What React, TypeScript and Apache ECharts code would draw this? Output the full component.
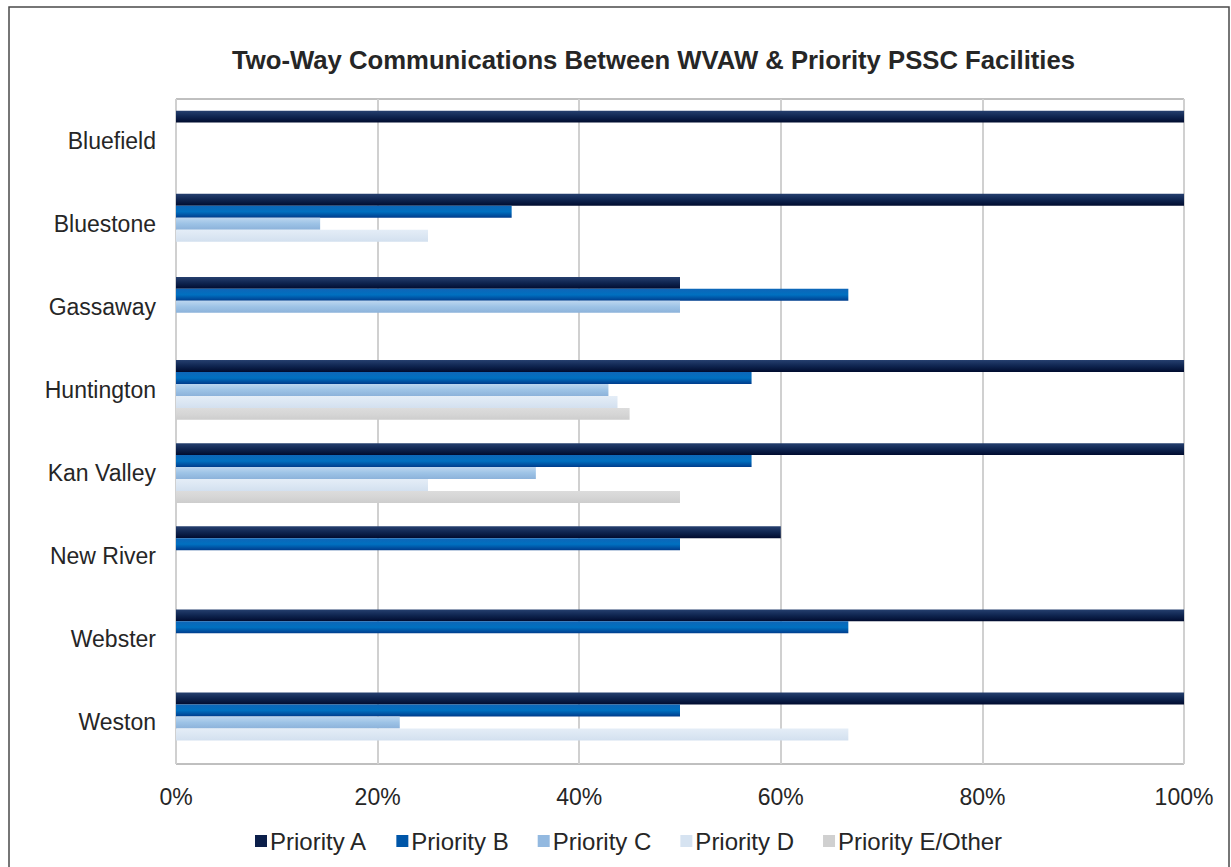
import React, { useEffect, useRef } from "react";
import * as echarts from "echarts";

const categories = ["Bluefield", "Bluestone", "Gassaway", "Huntington", "Kan Valley", "New River", "Webster", "Weston"];
const seriesNames = ["Priority A", "Priority B", "Priority C", "Priority D", "Priority E/Other"];
const priorityA = [100, 100, 50, 100, 100, 60, 100, 100];
const priorityB = [null, 33.3, 66.7, 57.1, 57.1, 50, 66.7, 50];
const priorityC = [null, 14.3, 50, 42.9, 35.7, null, null, 22.2];
const priorityD = [null, 25, null, 43.8, 25, null, null, 66.7];
const priorityE = [null, null, null, 45, 50, null, null, null];
const xTicks = [0, 20, 40, 60, 80, 100];

const gradients = [
  ["#26406f", "#0f2550", "#000b2e"],
  ["#0e66b8", "#0070c0", "#003c8c"],
  ["#bcd6ef", "#9dc3e6", "#8cb2da"],
  ["#e4edf7", "#dce7f3", "#d3e0ef"],
  ["#dcdcdc", "#d6d6d6", "#cdcdcd"],
];
const solid = ["#0c1f4a", "#0056a8", "#93b9e0", "#d6e3f1", "#d0d0d0"];

function grad(c: string[]) {
  return new echarts.graphic.LinearGradient(0, 0, 0, 1, [
    { offset: 0, color: c[0] },
    { offset: 0.5, color: c[1] },
    { offset: 1, color: c[2] },
  ]);
}

export default function App() {
  const ref = useRef<HTMLDivElement>(null);
  useEffect(() => {
    if (!ref.current) return;
    const chart = echarts.init(ref.current, null, { renderer: "svg" });
    const data = [priorityA, priorityB, priorityC, priorityD, priorityE];
    const font = "'Liberation Sans', Arial, sans-serif";
    chart.setOption({
      animation: false,
      backgroundColor: "#ffffff",
      textStyle: { fontFamily: font },
      title: {
        text: "Two-Way Communications Between WVAW & Priority PSSC Facilities",
        left: 227,
        top: 42,
        textStyle: { fontSize: 25.7, fontWeight: "bold", color: "#262626", fontFamily: font },
      },
      graphic: [
        {
          type: "rect",
          shape: { x: 9, y: 7, width: 1220, height: 900 },
          style: { fill: "none", stroke: "#4a4a4a", lineWidth: 1.5 },
          silent: true,
        },
      ],
      legend: {
        data: seriesNames.map((n, i) => ({ name: n, itemStyle: { color: solid[i] } })),
        left: 250,
        top: 824,
        icon: "rect",
        itemWidth: 12,
        itemHeight: 12,
        itemGap: 29,
        textStyle: { fontSize: 24, color: "#262626", fontFamily: font, padding: [0, 0, 0, -2] },
      },
      grid: {
        left: 176,
        right: 47,
        top: 99,
        bottom: 103,
        show: true,
        borderColor: "#808080",
        borderWidth: 1,
      },
      xAxis: {
        type: "value",
        min: xTicks[0],
        max: xTicks[xTicks.length - 1],
        interval: 20,
        axisLine: { show: false },
        axisTick: { show: false },
        axisLabel: {
          formatter: "{value}%",
          fontSize: 23,
          color: "#262626",
          margin: 21,
          fontFamily: font,
        },
        splitLine: { show: true, lineStyle: { color: "#d0d0d0", width: 2 } },
      },
      yAxis: {
        type: "category",
        data: categories,
        inverse: true,
        axisLine: { show: false },
        axisTick: { show: false },
        axisLabel: { fontSize: 23, color: "#262626", margin: 20, fontFamily: font },
        splitLine: { show: false },
      },
      series: seriesNames.map((n, i) => ({
        name: n,
        type: "bar",
        data: data[i],
        barGap: "0%",
        barCategoryGap: "28%",
        itemStyle: { color: grad(gradients[i]) },
      })),
    });
    return () => chart.dispose();
  }, []);
  return (
    <div
      ref={ref}
      style={{ position: "fixed", left: 0, top: 0, width: 1231, height: 867, background: "#fff" }}
    />
  );
}
